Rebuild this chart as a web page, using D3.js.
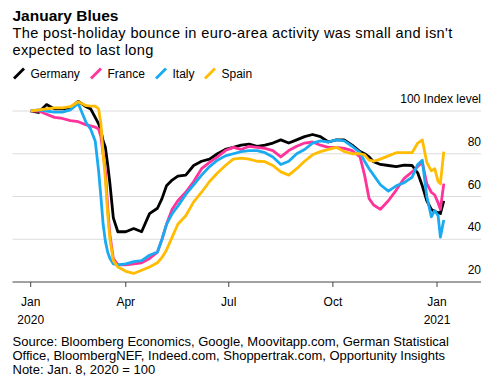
<!DOCTYPE html>
<html>
<head>
<meta charset="utf-8">
<script src="https://cdn.jsdelivr.net/npm/d3@7"></script>
<style>
  body { margin: 0; background: #fff; }
  svg { font-family: "Liberation Sans", Arial, sans-serif; }
  .title { font-weight: bold; font-size: 15.5px; fill: #000; }
  .sub { font-size: 14.6px; letter-spacing: 0.35px; fill: #000; }
  .legend text, .tick text, .ylab { font-size: 12px; fill: #000; }
  .note { font-size: 13px; fill: #000; }
  .grid line { stroke: #dcdcdc; stroke-width: 1; }
  .series { fill: none; stroke-width: 2.8; stroke-linejoin: round; }
</style>
</head>
<body>
<script>
(function () {

  // data, Jan. 8, 2020 = 100
  var dates = ["2020-01-08","2020-01-15","2020-01-22","2020-01-29","2020-02-05","2020-02-12","2020-02-19","2020-02-26",
    "2020-03-01","2020-03-05","2020-03-08","2020-03-10","2020-03-12","2020-03-14","2020-03-16","2020-03-18","2020-03-21","2020-03-25",
    "2020-04-01","2020-04-08","2020-04-15","2020-04-22","2020-04-29","2020-05-03","2020-05-07","2020-05-12","2020-05-17","2020-05-24","2020-05-31",
    "2020-06-07","2020-06-14","2020-06-21","2020-06-28","2020-07-05","2020-07-12","2020-07-19","2020-07-26",
    "2020-08-02","2020-08-09","2020-08-16","2020-08-23","2020-08-30","2020-09-06","2020-09-13","2020-09-20","2020-09-27",
    "2020-10-04","2020-10-11","2020-10-18","2020-10-25","2020-10-29","2020-11-02","2020-11-06","2020-11-12","2020-11-19","2020-11-26",
    "2020-12-03","2020-12-10","2020-12-15","2020-12-19","2020-12-23","2020-12-27","2020-12-30","2021-01-02","2021-01-04","2021-01-07"];

  var germany = [100,99.3,103,101,101,101.5,104.5,102,
    101,97,94,91,86,83,75,66,50,43.5,
    43.5,45,43.5,52,54.5,59,65,67.7,69.5,70,74.5,
    76.5,77.5,80,82,83,84,84.5,83.5,
    84,85,86.5,85,86.5,88,89,88,85.5,
    86.5,86.5,84,81,80,78.5,76.3,75,74.5,74,
    74.7,74.5,71,65,58,54,53,52.5,52,58];

  var france = [100,100,98.5,97,96.5,95.5,95,93.5,
    93,92.5,91.5,88,80,72,55,42,31,28,
    28,28.5,29,31,34,40,47,54,58,62,67,
    73,76,78.5,81.5,83,82,83.5,83,
    82.5,81.5,78.5,81.5,83.5,85,85.5,84,83,
    83,82.5,81.5,78.5,70,59,56,54,58,63,
    68.5,71.5,74,76,66,62,60.7,57,54,66];

  var italy = [100,100.5,100,99.5,99.5,100.5,103.5,94.5,
    91.5,86,72,60,47,39,34,31,28.5,28,
    28.5,29.5,30,32.5,34,40,47,52,55.5,61,65.5,
    70,74,77,79,80,81,81.5,81.5,
    80.5,78.5,75,76.5,80,82,85,86,85.5,
    86.5,86,83.5,80.5,76.5,73,70,65.5,62.5,65,
    66.5,69,75,77,60,50.5,53.5,51,41,49];

  var spain = [100,100.5,101,101.5,101.5,102,104.3,102.5,
    102.3,102.3,101,94,80,68,52,40,30,27,
    25,24,25.5,27,29,31.5,35,41,47,51,57.5,
    62,67,71,74.5,77.5,78,77.5,76.5,
    76.3,74.5,71.5,70,73,76.5,79.5,81,82,
    83,81,80,80,79.5,77,76.5,77.5,79,80.5,
    80.5,80.5,85,86.5,76,72,73,67,66,81];

  var seriesNames = ["Germany", "France", "Italy", "Spain"];
  var seriesColors = ["#000000", "#ff3399", "#1aaaf2", "#ffbc00"];
  var seriesValues = [germany, france, italy, spain];

  var yTicks = [100, 80, 60, 40, 20];
  var tickDates = ["2020-01-08", "2020-04-01", "2020-07-01", "2020-10-01", "2021-01-01"];
  var tickMonths = ["Jan", "Apr", "Jul", "Oct", "Jan"];
  var tickYears = ["2020", "", "", "", "2021"];

  var width = 500, height = 385;
  var parse = d3.timeParse("%Y-%m-%d");

  var svg = d3.select("body").append("svg")
    .attr("width", width)
    .attr("height", height);

  //header
  svg.append("text").attr("class", "title").attr("x", 12.5).attr("y", 20.5).text("January Blues");
  svg.append("text").attr("class", "sub").attr("x", 12.5).attr("y", 37.5)
    .text("The post-holiday bounce in euro-area activity was small and isn't");
  svg.append("text").attr("class", "sub").attr("x", 12.5).attr("y", 55)
    .text("expected to last long");

  //legend
  var legendX = [13, 90, 155, 204];
  var legend = svg.append("g").attr("class", "legend");
  seriesNames.forEach(function (name, i) {
    var g = legend.append("g").attr("transform", "translate(" + legendX[i] + ",0)");
    g.append("line")
      .attr("x1", 1).attr("y1", 78.5).attr("x2", 11).attr("y2", 68.5)
      .attr("stroke", seriesColors[i]).attr("stroke-width", 2.8);
    g.append("text").attr("x", 17.5).attr("y", 78).text(name);
  });

  //scales
  var x = d3.scaleTime()
    .domain([parse("2020-01-08"), parse("2021-01-01")])
    .range([30.7, 437]);
  var y = d3.scaleLinear()
    .domain([20, 100])
    .range([282, 111]);

  var left = 12.5, right = 481;

  //gridlines and right-hand labels
  var grid = svg.append("g").attr("class", "grid");
  grid.selectAll("line")
    .data(yTicks.filter(function (d) { return d > 20; }))
    .enter().append("line")
    .attr("x1", left).attr("x2", right)
    .attr("y1", function (d) { return y(d); })
    .attr("y2", function (d) { return y(d); });

  svg.selectAll(".ylab")
    .data(yTicks)
    .enter().append("text")
    .attr("class", "ylab")
    .attr("text-anchor", "end")
    .attr("x", right)
    .attr("y", function (d) { return y(d) - 8; })
    .text(function (d) { return d === 100 ? "100 Index level" : d; });

  //lines
  var line = d3.line()
    .x(function (d) { return x(d.date); })
    .y(function (d) { return y(d.value); });

  seriesValues.forEach(function (vals, i) {
    var pts = dates.map(function (dt, j) { return { date: parse(dt), value: vals[j] }; });
    svg.append("path")
      .datum(pts)
      .attr("class", "series")
      .attr("stroke", seriesColors[i])
      .attr("d", line);
  });

  //x axis
  svg.append("line")
    .attr("x1", left).attr("x2", right)
    .attr("y1", y(20)).attr("y2", y(20))
    .attr("stroke", "#444").attr("stroke-width", 1);

  var ticks = svg.selectAll(".tick")
    .data(tickDates)
    .enter().append("g")
    .attr("class", "tick")
    .attr("transform", function (d) { return "translate(" + x(parse(d)) + "," + y(20) + ")"; });
  ticks.append("line").attr("y1", 0).attr("y2", 5).attr("stroke", "#444");
  ticks.append("text").attr("text-anchor", "middle").attr("y", 23.5)
    .text(function (d, i) { return tickMonths[i]; });
  ticks.append("text").attr("text-anchor", "middle").attr("y", 41.5)
    .text(function (d, i) { return tickYears[i]; });

  //footnote
  var notes = ["Source: Bloomberg Economics, Google, Moovitapp.com, German Statistical",
    "Office, BloombergNEF, Indeed.com, Shoppertrak.com, Opportunity Insights",
    "Note: Jan. 8, 2020 = 100"];
  svg.selectAll(".note")
    .data(notes)
    .enter().append("text")
    .attr("class", "note")
    .attr("x", 12.5)
    .attr("y", function (d, i) { return 346 + i * 13.8; })
    .text(function (d) { return d; });

})();
</script>
</body>
</html>
